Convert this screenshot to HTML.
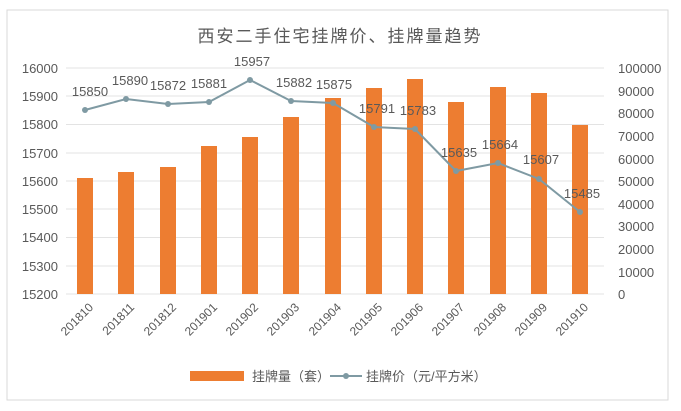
<!DOCTYPE html>
<html><head><meta charset="utf-8"><style>
body{margin:0;background:#fff;}
svg text{font-family:"Liberation Sans","Noto Sans CJK SC",sans-serif;fill:#595959;}
</style></head><body>
<svg width="681" height="406" viewBox="0 0 681 406">
<rect x="0" y="0" width="681" height="406" fill="#fff"/>
<rect x="7" y="10" width="661" height="390" fill="none" stroke="#d9d9d9"/>
<text x="340" y="42" font-size="17" text-anchor="middle" fill="#404040" style="letter-spacing:2px">西安二手住宅挂牌价、挂牌量趋势</text>
<g stroke="#e3e3e3" stroke-width="1">
<line x1="66" y1="68" x2="604" y2="68"/><line x1="66" y1="96" x2="604" y2="96"/><line x1="66" y1="124.5" x2="604" y2="124.5"/><line x1="66" y1="153" x2="604" y2="153"/><line x1="66" y1="181" x2="604" y2="181"/><line x1="66" y1="209" x2="604" y2="209"/><line x1="66" y1="237.5" x2="604" y2="237.5"/><line x1="66" y1="266" x2="604" y2="266"/><line x1="66" y1="294" x2="604" y2="294"/>
</g>
<g font-size="13" text-anchor="end">
<text x="58" y="73">16000</text><text x="58" y="101">15900</text><text x="58" y="129">15800</text><text x="58" y="158">15700</text><text x="58" y="186">15600</text><text x="58" y="214">15500</text><text x="58" y="242">15400</text><text x="58" y="271">15300</text><text x="58" y="299">15200</text>
</g>
<g font-size="13" text-anchor="start">
<text x="618" y="73">100000</text><text x="618" y="96">90000</text><text x="618" y="118">80000</text><text x="618" y="141">70000</text><text x="618" y="164">60000</text><text x="618" y="186">50000</text><text x="618" y="209">40000</text><text x="618" y="231">30000</text><text x="618" y="254">20000</text><text x="618" y="277">10000</text><text x="618" y="299">0</text>
</g>
<g fill="#ed7d31">
<rect x="77" y="178" width="16" height="116"/><rect x="118" y="172" width="16" height="122"/><rect x="160" y="167" width="16" height="127"/><rect x="201" y="146" width="16" height="148"/><rect x="242" y="137" width="16" height="157"/><rect x="283" y="117" width="16" height="177"/><rect x="325" y="98" width="16" height="196"/><rect x="366" y="88" width="16" height="206"/><rect x="407" y="79" width="16" height="215"/><rect x="448" y="102" width="16" height="192"/><rect x="490" y="87" width="16" height="207"/><rect x="531" y="93" width="16" height="201"/><rect x="572" y="125" width="16" height="169"/>
</g>
<polyline fill="none" stroke="#7f9aa3" stroke-width="2" points="85,110 126,99 168,104 209,102 250,80 291,101 333,103 374,127 415,129 456,171 498,163 539,179 580,212"/>
<g fill="#7f9aa3">
<circle cx="85" cy="110" r="3"/><circle cx="126" cy="99" r="3"/><circle cx="168" cy="104" r="3"/><circle cx="209" cy="102" r="3"/><circle cx="250" cy="80" r="3"/><circle cx="291" cy="101" r="3"/><circle cx="333" cy="103" r="3"/><circle cx="374" cy="127" r="3"/><circle cx="415" cy="129" r="3"/><circle cx="456" cy="171" r="3"/><circle cx="498" cy="163" r="3"/><circle cx="539" cy="179" r="3"/><circle cx="580" cy="212" r="3"/>
</g>
<g font-size="13" text-anchor="middle" fill="#404040">
<text x="90" y="96">15850</text><text x="130" y="85">15890</text><text x="168" y="90">15872</text><text x="209" y="88">15881</text><text x="252" y="66">15957</text><text x="294" y="87">15882</text><text x="334" y="89">15875</text><text x="377" y="113">15791</text><text x="418" y="115">15783</text><text x="459" y="157">15635</text><text x="500" y="149">15664</text><text x="541" y="164">15607</text><text x="582" y="198">15485</text>
</g>
<g font-size="12">
<text transform="translate(94,308) rotate(-45)" text-anchor="end">201810</text>
<text transform="translate(135,308) rotate(-45)" text-anchor="end">201811</text>
<text transform="translate(177,308) rotate(-45)" text-anchor="end">201812</text>
<text transform="translate(218,308) rotate(-45)" text-anchor="end">201901</text>
<text transform="translate(259,308) rotate(-45)" text-anchor="end">201902</text>
<text transform="translate(300,308) rotate(-45)" text-anchor="end">201903</text>
<text transform="translate(342,308) rotate(-45)" text-anchor="end">201904</text>
<text transform="translate(383,308) rotate(-45)" text-anchor="end">201905</text>
<text transform="translate(424,308) rotate(-45)" text-anchor="end">201906</text>
<text transform="translate(465,308) rotate(-45)" text-anchor="end">201907</text>
<text transform="translate(507,308) rotate(-45)" text-anchor="end">201908</text>
<text transform="translate(548,308) rotate(-45)" text-anchor="end">201909</text>
<text transform="translate(589,308) rotate(-45)" text-anchor="end">201910</text>
</g>
<rect x="190" y="371" width="54" height="10" fill="#ed7d31"/>
<text x="252" y="381" font-size="13">挂牌量（套）</text>
<line x1="330" y1="376" x2="362" y2="376" stroke="#7f9aa3" stroke-width="2"/>
<circle cx="346" cy="376" r="3" fill="#7f9aa3"/>
<text x="366" y="381" font-size="13">挂牌价（元/平方米）</text>
</svg>
</body></html>
